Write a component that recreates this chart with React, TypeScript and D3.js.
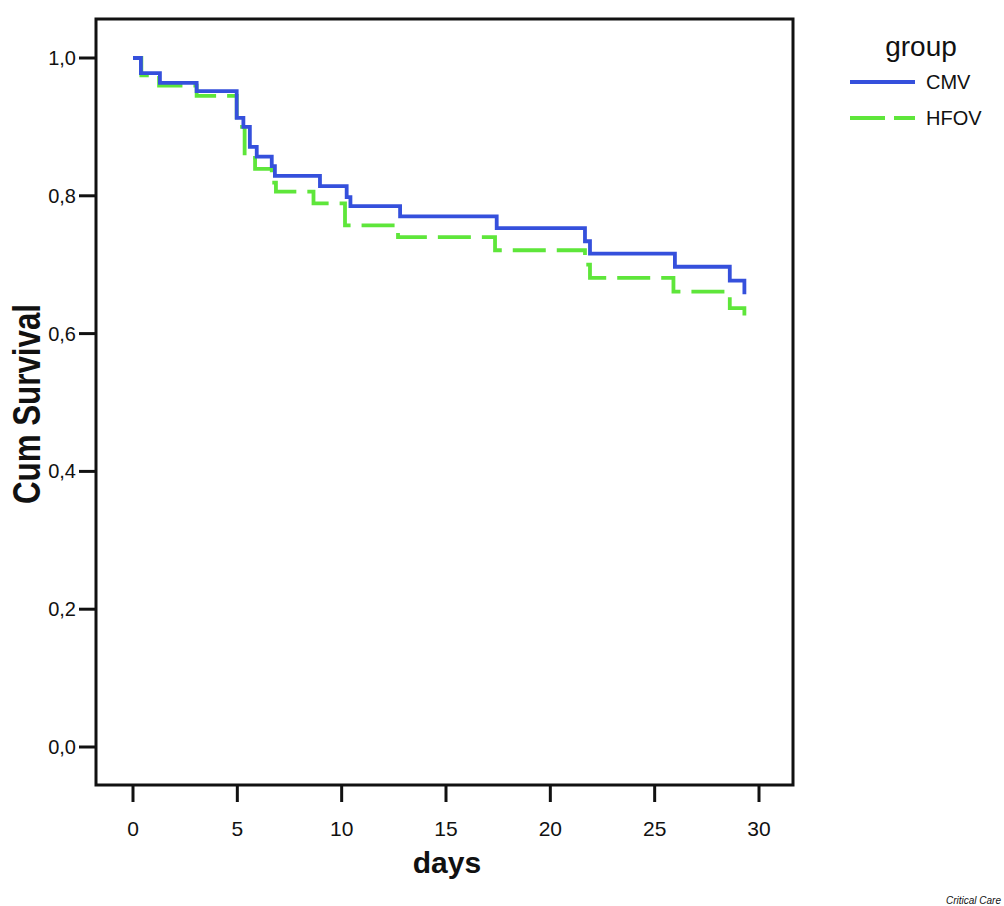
import React from "react";
import * as d3 from "d3";

const xTicks = [0, 5, 10, 15, 20, 25, 30];
const yTicks = [0, 0.2, 0.4, 0.6, 0.8, 1.0];
const yTickLabels = ["0,0", "0,2", "0,4", "0,6", "0,8", "1,0"];

const groups = ["CMV", "HFOV"];
const cmvTimes = [0, 0.38, 1.29, 3.05, 4.97, 5.29, 5.6, 5.93, 6.65, 6.8, 8.96, 10.24, 10.42, 12.8, 17.43, 21.66, 21.9, 25.97, 28.6, 29.3];
const cmvSurv = [1.0, 0.978, 0.964, 0.952, 0.913, 0.9, 0.871, 0.857, 0.843, 0.829, 0.814, 0.798, 0.785, 0.77, 0.753, 0.734, 0.716, 0.697, 0.677, 0.657];
const hfovTimes = [0, 0.4, 1.25, 3.05, 4.97, 5.35, 5.85, 6.65, 6.85, 8.65, 10.16, 12.7, 17.35, 21.66, 21.9, 25.9, 28.6, 29.3];
const hfovSurv = [1.0, 0.975, 0.96, 0.945, 0.9, 0.855, 0.839, 0.819, 0.806, 0.789, 0.757, 0.74, 0.721, 0.7, 0.681, 0.661, 0.637, 0.616];

const BLUE = "#3550dc";
const GREEN = "#5ee63a";

export default function App() {
  const x = d3.scaleLinear().domain([0, 30]).range([133, 759]);
  const y = d3.scaleLinear().domain([0, 1]).range([747, 58]);
  const line = d3
    .line<[number, number]>()
    .x((d) => x(d[0]))
    .y((d) => y(d[1]))
    .curve(d3.curveStepAfter);
  const cmv = cmvTimes.map((t, i) => [t, cmvSurv[i]] as [number, number]);
  const hfov = hfovTimes.map((t, i) => [t, hfovSurv[i]] as [number, number]);
  const font = "'Liberation Sans', Arial, sans-serif";
  const frame = { l: 96, t: 19, r: 793, b: 785 };

  return (
    <svg
      width={1004}
      height={906}
      style={{ position: "absolute", left: 0, top: 0, background: "#fff" }}
      fontFamily={font}
    >
      <rect x={0} y={0} width={1004} height={906} fill="#fff" />
      <path d={line(hfov) || ""} fill="none" stroke={GREEN} strokeWidth={3.8} strokeDasharray="33 11" />
      <path d={line(cmv) || ""} fill="none" stroke={BLUE} strokeWidth={3.8} />
      <rect
        x={frame.l}
        y={frame.t}
        width={frame.r - frame.l}
        height={frame.b - frame.t}
        fill="none"
        stroke="#111"
        strokeWidth={3}
      />
      {yTicks.map((v, i) => (
        <g key={"y" + i}>
          <line x1={79} x2={frame.l} y1={y(v)} y2={y(v)} stroke="#111" strokeWidth={3} />
          <text x={76} y={y(v) + 7} textAnchor="end" fontSize={20} fill="#111">
            {yTickLabels[i]}
          </text>
        </g>
      ))}
      {xTicks.map((v, i) => (
        <g key={"x" + i}>
          <line x1={x(v)} x2={x(v)} y1={frame.b} y2={802} stroke="#111" strokeWidth={3} />
          <text x={x(v)} y={836} textAnchor="middle" fontSize={21} fill="#111">
            {v}
          </text>
        </g>
      ))}
      <text x={447} y={873} textAnchor="middle" fontSize={30} fontWeight="bold" fill="#111">
        days
      </text>
      <text
        transform="translate(40,404) rotate(-90)"
        textAnchor="middle"
        fontSize={38}
        fontWeight="bold"
        fill="#111"
        textLength={200}
        lengthAdjust="spacingAndGlyphs"
      >
        Cum Survival
      </text>
      <text x={921} y={56} textAnchor="middle" fontSize={28} fill="#111">
        group
      </text>
      <line x1={850} x2={915} y1={82} y2={82} stroke={BLUE} strokeWidth={4} />
      <text x={926} y={89} fontSize={20} fill="#111">
        {groups[0]}
      </text>
      <line x1={850} x2={915} y1={118} y2={118} stroke={GREEN} strokeWidth={4} strokeDasharray="35 9" />
      <text x={926} y={125} fontSize={20} fill="#111">
        {groups[1]}
      </text>
      <text x={1001} y={904} textAnchor="end" fontSize={10} fontStyle="italic" fill="#111">
        Critical Care
      </text>
    </svg>
  );
}
